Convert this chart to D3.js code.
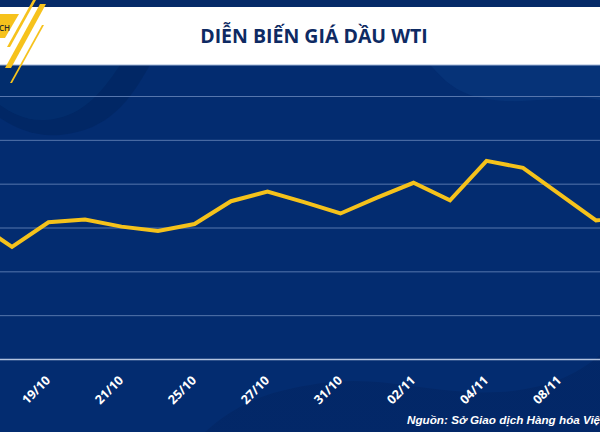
<!DOCTYPE html>
<html>
<head>
<meta charset="utf-8">
<script src="https://cdn.jsdelivr.net/npm/d3@7/dist/d3.min.js"></script>
<style>
  html, body { margin: 0; padding: 0; background: #032c70; }
  svg { display: block; }
</style>
</head>
<body>
<svg id="chart" width="600" height="432"></svg>
<script>
// ---- data ----
const dates = ["17/10","18/10","19/10","20/10","21/10","24/10","25/10","26/10","27/10","28/10",
               "31/10","01/11","02/11","03/11","04/11","07/11","08/11","09/11","10/11"];
const prices = [85.6, 82.8, 85.6, 85.9, 85.1, 84.6, 85.4, 88.0, 89.1, 87.9,
                86.6, 88.4, 90.1, 88.1, 92.6, 91.8, 88.8, 85.8, 86.4];
const tickLabels = ["19/10","21/10","25/10","27/10","31/10","02/11","04/11","08/11"];
const yTicks = [70, 75, 80, 85, 90, 95, 100];
const title = "DIỄN BIẾN GIÁ DẦU WTI";
const source = "Nguồn: Sở Giao dịch Hàng hóa Việt Nam";

const W = 600, H = 432;
const svg = d3.select("#chart");

// ---- background ----
svg.append("rect").attr("width", W).attr("height", H).attr("fill", "#032c70");
const defs = svg.append("defs");
const g1 = defs.append("linearGradient").attr("id", "waveDark").attr("x1", 0).attr("y1", 0).attr("x2", 0).attr("y2", 1);
g1.append("stop").attr("offset", "0%").attr("stop-color", "#02235f").attr("stop-opacity", 0.9);
g1.append("stop").attr("offset", "100%").attr("stop-color", "#021f58").attr("stop-opacity", 0.6);

// decorative waves
svg.append("path")
  .attr("d", "M0,65 L150,65 C130,100 110,130 60,135 C35,137 15,128 0,118 Z")
  .attr("fill", "#022561").attr("opacity", 0.7);
svg.append("path")
  .attr("d", "M0,65 L120,65 C100,95 80,118 45,120 C25,121 10,112 0,105 Z")
  .attr("fill", "#03306f").attr("opacity", 0.8);
svg.append("path")
  .attr("d", "M430,65 L600,65 L600,100 C560,92 520,110 470,95 C450,88 440,75 430,65 Z")
  .attr("fill", "#0a3a80").attr("opacity", 0.5);
svg.append("path")
  .attr("d", "M205,432 C235,405 265,392 310,385 C380,372 430,396 500,392 C550,389 580,372 600,355 L600,432 Z")
  .attr("fill", "url(#waveDark)").attr("opacity", 0.55);

// ---- header ----
svg.append("rect").attr("x", 0).attr("y", 0).attr("width", W).attr("height", 7).attr("fill", "#062a68");
svg.append("rect").attr("x", 0).attr("y", 7).attr("width", W).attr("height", 58).attr("fill", "#ffffff");
svg.append("line").attr("x1", 0).attr("x2", W).attr("y1", 65).attr("y2", 65)
  .attr("stroke", "#9fb4d6").attr("stroke-width", 1);

// logo fragment
svg.append("path").attr("d", "M0,14 L19,14 L5,38 L0,38 Z").attr("fill", "#f6c21c");
svg.append("text").attr("x", -1).attr("y", 31).text("CH")
  .attr("font-family", "'Open Sans', sans-serif").attr("font-size", 8).attr("font-weight", 600)
  .attr("fill", "#2a2a2a");
svg.append("path").attr("d", "M33,0 L36,0 L10,47 L7,47 Z").attr("fill", "#f6c21c");
svg.append("path").attr("d", "M40,4 L46,4 L11,68 L5,68 Z").attr("fill", "#f6c21c");
svg.append("path").attr("d", "M42,25 L44,25 L12,83 L10,83 Z").attr("fill", "#f6c21c");

svg.append("text")
  .attr("x", 314).attr("y", 43)
  .attr("text-anchor", "middle")
  .attr("font-family", "'Open Sans', sans-serif")
  .attr("font-weight", 700)
  .attr("font-size", 19.5)
  .attr("fill", "#0e2a63")
  .text(title);

// ---- scales ----
const x = d3.scalePoint().domain(dates).range([-24.5, 632.5]);
const y = d3.scaleLinear().domain([70, 100]).range([359, 96]);

// ---- grid ----
const grid = svg.append("g").attr("class", "grid")
  .call(d3.axisRight(y).tickValues(yTicks).tickSize(W).tickFormat(""));
grid.select(".domain").remove();
grid.selectAll(".tick line")
  .attr("stroke", d => d === 70 ? "#b3c3df" : "#5676ad")
  .attr("stroke-width", d => d === 70 ? 1.6 : 1);

// ---- line ----
const line = d3.line().x((d, i) => x(dates[i])).y(d => y(d));
svg.append("path")
  .datum(prices)
  .attr("d", line)
  .attr("fill", "none")
  .attr("stroke", "#f5c21b")
  .attr("stroke-width", 4)
  .attr("stroke-linejoin", "miter");

// ---- x axis ----
const xAxis = svg.append("g").attr("transform", "translate(0,370)")
  .call(d3.axisBottom(x).tickValues(tickLabels).tickSize(0));
xAxis.select(".domain").remove();
xAxis.selectAll(".tick text")
  .attr("fill", "#ffffff")
  .attr("font-family", "'Open Sans', sans-serif")
  .attr("font-weight", 700)
  .attr("font-size", 12.5)
  .attr("text-anchor", "end")
  .attr("dy", 0)
  .attr("transform", "translate(0,9) rotate(-45)");

// ---- source ----
svg.append("text")
  .attr("x", 407).attr("y", 424)
  .attr("font-family", "'Liberation Sans', Arial, sans-serif")
  .attr("font-weight", 700)
  .attr("font-style", "italic")
  .attr("font-size", 11.7)
  .attr("fill", "#ffffff")
  .text(source);
</script>
</body>
</html>
